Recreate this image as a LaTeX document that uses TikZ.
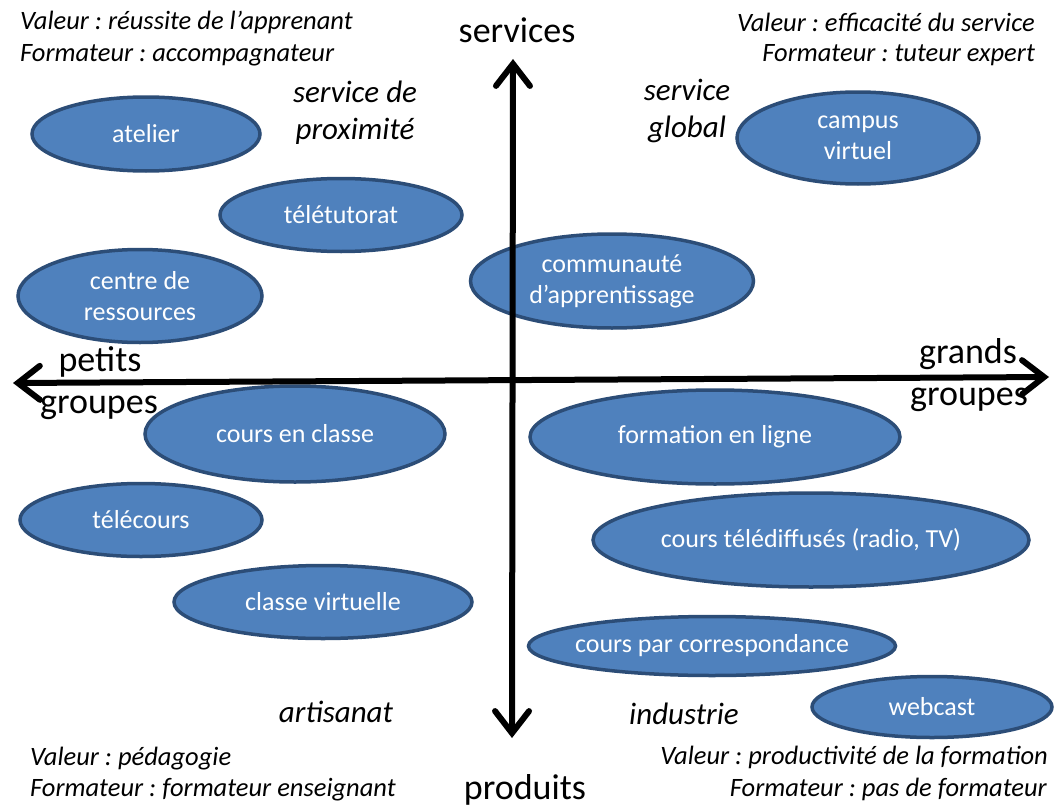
\documentclass[tikz,border=0pt]{standalone}
\usepackage{fontspec}
\setmainfont{Carlito}
\usetikzlibrary{arrows.meta,shapes.geometric}
\definecolor{bubblefill}{HTML}{4F81BD}
\definecolor{bubbleline}{HTML}{2C4D77}
\frenchspacing
\begin{document}
\begin{tikzpicture}[
    x=1pt, y=-1pt,
    bubble/.style={ellipse, draw=bubbleline, fill=bubblefill, line width=3.5pt, inner sep=0pt, text=white, align=center, font=\fontsize{26}{31}\selectfont},
    corner/.style={inner sep=0pt, font=\fontsize{26.5}{30}\selectfont\itshape},
    zone/.style={inner sep=0pt, align=center, font=\fontsize{31}{37}\selectfont\itshape},
    axislabel/.style={inner sep=0pt, font=\fontsize{36}{40}\selectfont},
    arrow/.style={{Straight Barb[length=22pt,width=34pt,line cap=round]}-{Straight Barb[length=22pt,width=34pt,line cap=round]}, line width=6pt, line cap=round}
]
\useasboundingbox (0,0) rectangle (1055,808);

\coordinate (W) at (13,383);
\coordinate (E) at (1049,377);
\coordinate (N) at (513,59);
\coordinate (S) at (512,738);

\node[bubble, minimum width=228pt, minimum height=74pt] (atelier) at (146,134) {atelier};
\node[bubble, minimum width=242pt, minimum height=73pt] (tutorat) at (341,215) {télétutorat};
\node[bubble, minimum width=244pt, minimum height=93pt] (centre) at (140,296) {centre de\\ressources};
\node[bubble, minimum width=283pt, minimum height=94pt] (communaute) at (612,281) {communauté\\d’apprentissage};
\node[bubble, minimum width=242pt, minimum height=92pt] (campus) at (858,138) {campus\\virtuel};
\node[bubble, minimum width=300pt, minimum height=96pt] (classe) at (295,434) {cours en classe};
\node[bubble, minimum width=370pt, minimum height=94pt] (enligne) at (715,437) {formation en ligne};
\node[bubble, minimum width=242pt, minimum height=73pt] (telecours) at (141,520) {télécours};
\node[bubble, minimum width=436pt, minimum height=94pt] (telediff) at (811,540) {cours télédiffusés (radio, TV)};
\node[bubble, minimum width=298pt, minimum height=73pt] (virtuelle) at (323,602) {classe virtuelle};
\node[bubble, minimum width=367pt, minimum height=59pt, inner xsep=-10pt] (corresp) at (712,646) {cours par correspondance};
\node[bubble, minimum width=240pt, minimum height=61pt] (webcast) at (932,707) {webcast};

\draw[arrow] (W) -- (E);
\draw[arrow] (S) -- (N);

\node[axislabel] (services) at (517,30) {services};
\node[axislabel] (produits) at (525,790) {produits};
\node[axislabel] (petits) at (100,362) {petits};
\node[axislabel] (pgroupes) at (99,408) {groupes};
\node[axislabel] (grands) at (968,354) {grands};
\node[axislabel] (ggroupes) at (969,400) {groupes};

\node[zone] (proximite) at (355,113) {service de\\proximité};
\node[zone] (global) at (687,111) {service\\global};
\node[zone] (artisanat) at (336,712) {artisanat};
\node[zone] (industrie) at (684,714) {industrie};

\node[corner, anchor=west] (val1) at (20,22) {Valeur : réussite de l’apprenant};
\node[corner, anchor=west] (form1) at (20,55) {Formateur : accompagnateur};
\node[corner, anchor=east] (val2) at (1035,22) {Valeur : efficacité du service};
\node[corner, anchor=east] (form2) at (1035,55) {Formateur : tuteur expert};
\node[corner, anchor=west] (val3) at (30,759) {Valeur : pédagogie};
\node[corner, anchor=west] (form3) at (30,790) {Formateur : formateur enseignant};
\node[corner, anchor=east] (val4) at (1048,757) {Valeur : productivité de la formation};
\node[corner, anchor=east] (form4) at (1047,789) {Formateur : pas de formateur};

\end{tikzpicture}
\end{document}
